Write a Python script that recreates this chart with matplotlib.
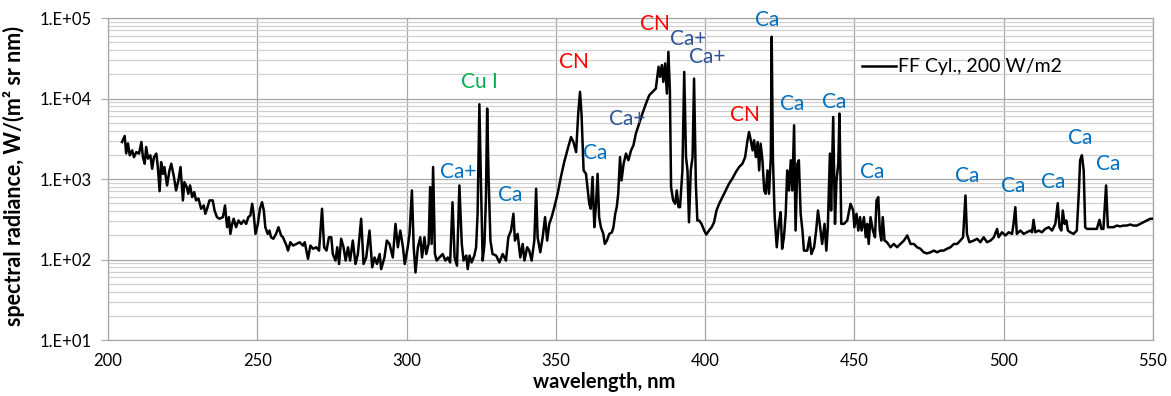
import numpy as np
import matplotlib.pyplot as plt
from matplotlib.ticker import LogLocator, FuncFormatter, NullFormatter

plt.rcParams['font.family'] = ['Lato', 'DejaVu Sans']

# spectrum, split in pieces by wavelength range
wl_a = [204.7, 205.6, 206.1, 206.7, 207.3, 208.1, 208.7, 209.5, 210.4, 211.2, 211.7, 212.3, 212.8, 213.4,
        214.2, 214.8, 215.4, 216.2, 216.7, 217.3, 217.8, 218.4, 218.9, 219.8, 220.6, 221.2, 222.1, 222.8,
        223.6, 224.3, 225.1, 225.6, 226.4, 226.9, 227.5, 228.2, 228.9, 229.5, 230.3, 231.2, 232.1, 232.6,
        233.2, 234.0, 235.1, 235.7, 236.5, 237.3, 238.5, 239.2, 239.9, 240.5, 241.0, 241.6, 242.1, 242.9,
        243.7, 244.6, 245.5, 246.3, 247.0, 247.7, 248.3, 248.8, 249.4, 250.2, 250.9, 251.6, 252.2, 252.7,
        253.5, 254.1, 254.6, 255.4, 256.3, 257.1, 258.0]
rad_a = [2880, 3420, 2080, 2770, 1970, 2270, 1870, 2160, 2070, 2880, 1870, 1550, 2500, 1790,
         1970, 1340, 1870, 2070, 1410, 706, 1620, 1160, 1410, 832, 1280, 1550, 1060, 721,
         960, 1410, 542, 914, 793, 656, 832, 596, 687, 542, 573, 427, 469, 370,
         427, 542, 542, 406, 336, 321, 336, 469, 252, 336, 208, 277, 321, 252,
         305, 277, 305, 277, 336, 352, 492, 370, 208, 277, 427, 515, 406, 252,
         208, 229, 189, 181, 208, 252, 199]

wl_b = [258.6, 259.8, 260.3, 261.1, 262.0, 263.1, 264.2, 265.3, 265.9, 267.0, 267.8, 268.7, 269.8, 270.7,
        271.7, 272.4, 273.2, 274.0, 274.8, 275.3, 276.2, 276.8, 277.4, 278.1, 278.9, 279.6, 280.4, 281.1,
        282.0, 282.9, 283.7, 284.8, 285.6, 286.5, 287.6, 288.5, 289.3, 290.1, 291.0, 291.5, 292.6, 293.4,
        294.3, 295.4, 296.3, 297.1, 297.9, 298.8, 299.4, 300.4, 301.0, 301.8, 302.4, 303.0, 303.8, 304.6,
        305.2, 306.0, 306.6, 307.4, 307.9, 308.4, 308.9, 309.5, 310.1, 311.0, 312.1, 313.0, 313.8, 314.6,
        315.4, 316.1]
rad_b = [189, 149, 129, 164, 149, 156, 164, 149, 164, 102, 149, 136, 142, 129,
         427, 142, 129, 189, 189, 117, 97, 142, 88, 181, 142, 97, 142, 97,
         172, 88, 117, 321, 88, 106, 229, 80, 106, 88, 117, 76, 106, 172,
         156, 106, 277, 142, 229, 142, 88, 142, 208, 721, 142, 69, 142, 189,
         106, 189, 117, 156, 793, 156, 1410, 117, 97, 106, 117, 97, 106, 92,
         515, 106]

wl_c = [316.9, 317.7, 318.5, 319.1, 320.0, 320.5, 321.1, 321.8, 322.7, 323.3, 323.8, 324.4, 324.9, 325.5,
        326.1, 326.6, 327.0, 327.5, 328.1, 328.8, 330.0, 331.1, 332.2, 333.3, 334.1, 335.0, 335.8, 336.3,
        337.2, 338.1, 338.9, 339.5, 340.4, 341.1, 341.9, 342.8, 343.4, 343.9, 344.8, 345.6, 346.4, 347.1,
        347.8, 348.6, 349.5, 350.6, 351.7, 352.8, 354.0, 355.1, 355.9, 356.8, 357.5, 358.1, 358.6, 359.3,
        360.1, 360.6, 361.2, 361.7, 362.3, 362.9, 363.4, 364.0, 364.5, 365.1, 365.9, 366.4, 367.1, 367.9,
        368.8, 369.3, 369.9, 370.4, 370.9, 371.5, 372.0, 372.7, 373.5, 374.3, 375.2, 376.0]
rad_c = [84, 832, 156, 97, 112, 76, 112, 92, 112, 142, 370, 8490, 960, 97,
         156, 596, 7500, 960, 172, 117, 112, 92, 117, 97, 189, 229, 370, 172,
         208, 106, 156, 97, 142, 129, 97, 172, 757, 189, 123, 189, 336, 172,
         277, 336, 447, 656, 1060, 1620, 2380, 3320, 2880, 2160, 6500, 12100, 6500, 1280,
         1160, 793, 492, 427, 1060, 252, 447, 1160, 336, 252, 208, 156, 172, 208,
         218, 252, 370, 447, 656, 1870, 960, 1550, 2070, 1710, 2270, 2620]

wl_d = [376.8, 377.9, 379.0, 380.2, 381.3, 382.4, 383.5, 384.4, 384.9, 385.5, 386.0, 386.6, 387.2, 387.7,
        388.2, 388.6, 389.3, 390.0, 390.5, 391.1, 391.6, 392.4, 393.0, 393.6, 394.1, 394.6, 395.2, 395.8,
        396.3, 396.9, 397.4, 398.0, 398.8, 399.7, 400.4, 401.3, 402.2, 403.0, 403.8, 404.7, 405.8, 406.9,
        408.0, 409.1, 410.3, 411.4, 412.5, 413.4, 414.2, 414.7, 415.3, 415.9, 416.4, 417.0, 417.6, 418.1,
        418.6, 419.2, 419.8, 420.3, 420.9, 421.4, 422.0, 422.3, 422.7, 423.3, 424.0, 424.7, 425.3, 425.8,
        426.4, 427.0, 427.5, 428.1, 428.7, 429.2, 429.8, 430.3, 430.9, 431.4, 432.0, 432.6, 433.1]
rad_d = [3660, 4890, 6500, 8660, 11000, 12100, 13300, 24800, 18600, 26000, 16100, 27300, 11500, 38000,
         12700, 793, 542, 492, 721, 447, 447, 1280, 21400, 1870, 1280, 290, 1280, 1870,
         17700, 873, 305, 305, 277, 229, 204, 229, 252, 290, 406, 492, 596, 721,
         873, 1010, 1220, 1410, 1550, 1870, 3030, 3840, 3030, 2270, 3030, 1870, 2880, 1280,
         2750, 1710, 721, 656, 1280, 656, 1870, 58500, 1870, 336, 142, 277, 387, 136,
         189, 370, 1280, 721, 1710, 721, 4650, 229, 1550, 1710, 370, 229, 129]

wl_e = [434.2, 435.0, 435.6, 436.5, 437.2, 437.8, 438.4, 439.2, 440.0, 440.6, 441.1, 441.8, 442.2, 442.9,
        443.5, 444.0, 444.6, 445.0, 445.6, 446.5, 447.6, 448.7, 449.6, 450.0, 450.7, 451.3, 451.9, 452.4,
        453.2, 453.8, 454.3, 454.8, 455.4, 456.2, 456.9, 457.4, 458.0, 458.5, 459.0, 459.5, 460.1, 460.9,
        462.1, 463.2, 464.3, 465.4, 466.6, 467.7, 468.8, 469.9, 471.0, 472.1, 473.2, 474.3, 475.5, 476.6,
        477.7, 478.8, 479.9, 481.0, 482.2, 483.3, 484.4, 485.5, 486.4, 487.2, 487.7, 488.5, 490.0]
rad_e = [129, 189, 117, 142, 229, 406, 277, 156, 277, 129, 252, 2070, 406, 5900,
         277, 960, 1550, 6500, 277, 277, 305, 492, 406, 252, 370, 229, 336, 229,
         336, 189, 277, 156, 336, 229, 189, 542, 596, 229, 172, 336, 172, 164,
         142, 156, 142, 156, 172, 199, 156, 156, 142, 136, 123, 119, 123, 129,
         123, 129, 129, 136, 142, 156, 156, 172, 189, 625, 208, 164, 172]

wl_f = [491.1, 492.2, 493.3, 494.4, 495.6, 496.7, 497.8, 498.3, 499.4, 500.6, 501.7, 502.8, 503.3, 503.9,
        504.4, 505.6, 506.7, 507.8, 508.9, 509.5, 510.0, 510.6, 511.7, 512.8, 513.9, 515.1, 516.2, 517.3,
        518.1, 518.7, 519.3, 519.8, 520.4, 521.0, 521.5, 522.3, 523.4, 524.5, 525.2, 525.6, 526.2, 526.8,
        527.3, 527.9, 529.0, 530.1, 531.2, 532.1, 532.7, 533.4, 534.3, 534.9, 535.7, 536.8, 537.9, 539.0,
        540.1, 541.2, 542.4, 543.5, 544.6, 545.7, 546.8, 547.9, 549.1, 549.8]
rad_f = [181, 164, 189, 164, 172, 189, 240, 189, 218, 199, 218, 208, 277, 447,
         208, 229, 208, 218, 229, 218, 311, 218, 229, 218, 240, 252, 229, 277,
         501, 252, 229, 406, 277, 305, 229, 218, 208, 229, 721, 1710, 1970, 1280,
         252, 240, 240, 240, 240, 311, 240, 240, 832, 252, 252, 252, 264, 258,
         264, 264, 272, 264, 264, 277, 290, 305, 321, 321]

# line labels: text, wavelength, baseline value, colour
lab_text = ['Cu I', 'Ca+', 'Ca', 'CN', 'Ca', 'Ca+', 'CN', 'Ca+', 'Ca+', 'CN',
            'Ca', 'Ca', 'Ca', 'Ca', 'Ca', 'Ca', 'Ca', 'Ca', 'Ca']
lab_wl = [324.3, 317.4, 334.7, 355.9, 363.1, 373.8, 383.3, 394.3, 400.6, 413.4,
          420.9, 429.3, 443.1, 456.0, 487.7, 503.3, 516.5, 525.6, 535.1]
lab_val = [13700, 1016, 526, 23700, 1790, 4660, 71000, 46100, 27300, 5210,
           79400, 7140, 7730, 1030, 914, 687, 771, 2750, 1280]
lab_col = ['#00B050', '#0070C0', '#0070C0', '#FF0000', '#0070C0', '#2F5597', '#FF0000', '#2F5597', '#2F5597', '#FF0000',
           '#0070C0', '#0070C0', '#0070C0', '#0070C0', '#0070C0', '#0070C0', '#0070C0', '#0070C0', '#0070C0']

wl = np.concatenate([wl_a, wl_b, wl_c, wl_d, wl_e, wl_f])
rad = np.concatenate([rad_a, rad_b, rad_c, rad_d, rad_e, rad_f])

fig = plt.figure(figsize=(11.71, 3.96), dpi=100)
ax = fig.add_axes([0.0922, 0.1414, 0.8924, 0.8131])

ax.plot(wl, rad, color='black', lw=1.8, label='FF Cyl., 200 W/m2', zorder=3)

ax.set_yscale('log')
ax.set_xlim(200, 550)
ax.set_ylim(10, 1e5)
ax.set_xticks(np.arange(200, 551, 50))
ax.yaxis.set_major_locator(LogLocator(base=10, numticks=10))
ax.yaxis.set_minor_locator(LogLocator(base=10, subs=np.arange(2, 10), numticks=20))
ax.yaxis.set_major_formatter(FuncFormatter(lambda v, p: '1.E+%02d' % round(np.log10(v))))
ax.yaxis.set_minor_formatter(NullFormatter())

ax.grid(True, which='major', color='#A6A6A6', lw=0.9)
ax.grid(True, which='minor', axis='y', color='#D0D0D0', lw=0.9)
ax.set_axisbelow(True)
for s in ax.spines.values():
    s.set_color('#A6A6A6')
    s.set_linewidth(0.9)

ax.tick_params(axis='x', length=0, pad=9, labelsize=12, colors='black')
ax.tick_params(axis='y', which='major', length=5, pad=7, labelsize=12, color='#A6A6A6', labelcolor='black')
ax.tick_params(axis='y', which='minor', length=0)

ax.set_xlabel('wavelength, nm', fontsize=14.5, fontweight='bold')
ax.set_ylabel('spectral radiance, W/(m² sr nm)', fontsize=15.5, fontweight='bold')
ax.xaxis.set_label_coords(0.475, -0.1)
ax.yaxis.set_label_coords(-0.079, 0.51)

for t, x, y, c in zip(lab_text, lab_wl, lab_val, lab_col):
    ax.text(x, y, t, color=c, fontsize=15, ha='center', va='baseline', zorder=4)

ax.legend(loc='center left', bbox_to_anchor=(0.722, 0.848), frameon=False, fontsize=14,
          handlelength=1.7, handletextpad=0.15, borderpad=0, borderaxespad=0)

fig.savefig('out.png', dpi=100)
